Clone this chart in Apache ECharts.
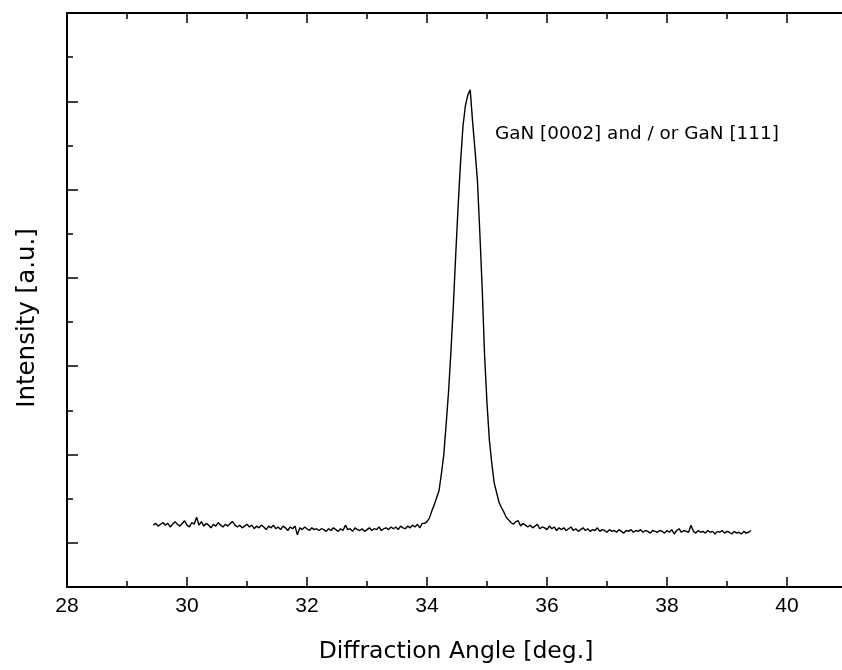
<!DOCTYPE html>
<html>
<head>
<meta charset="utf-8">
<script src="https://cdn.jsdelivr.net/npm/echarts@6/dist/echarts.min.js"></script>
<style>
  html, body { margin: 0; padding: 0; background: #fff; }
  #chart { width: 842px; height: 670px; }
</style>
</head>
<body>
<div id="chart"></div>
<script>
// ---- data ----
const xTickLabels = ['28', '30', '32', '34', '36', '38', '40'];
const scanStart = 29.44;   // first diffraction angle of the scan (deg)
const scanStep = 0.04;     // scan step (deg)
// intensity (a.u.) at each scan step
const intensity = [
  0.70, 0.72, 0.69, 0.71, 0.73, 0.70, 0.72, 0.68, 0.71, 0.74,
  0.71, 0.69, 0.72, 0.75, 0.70, 0.68, 0.73, 0.71, 0.79, 0.70,
  0.74, 0.69, 0.72, 0.70, 0.67, 0.71, 0.69, 0.73, 0.70, 0.68,
  0.71, 0.69, 0.72, 0.74, 0.70, 0.68, 0.70, 0.67, 0.69, 0.71,
  0.68, 0.70, 0.66, 0.69, 0.67, 0.70, 0.68, 0.65, 0.69, 0.67,
  0.70, 0.66, 0.68, 0.65, 0.69, 0.67, 0.64, 0.68, 0.66, 0.69,
  0.59, 0.67, 0.65, 0.68, 0.66, 0.64, 0.67, 0.65, 0.66, 0.64,
  0.66, 0.65, 0.63, 0.66, 0.64, 0.67, 0.65, 0.63, 0.66, 0.64,
  0.70, 0.65, 0.66, 0.63, 0.67, 0.65, 0.64, 0.66, 0.63, 0.65,
  0.67, 0.64, 0.66, 0.65, 0.68, 0.64, 0.66, 0.67, 0.65, 0.68,
  0.66, 0.68, 0.65, 0.69, 0.67, 0.66, 0.69, 0.67, 0.70, 0.68,
  0.71, 0.67, 0.72, 0.72, 0.74, 0.78, 0.86, 0.93, 1.01, 1.09,
  1.28, 1.50, 1.85, 2.22, 2.68, 3.20, 3.78, 4.33, 4.82, 5.22,
  5.45, 5.57, 5.63, 5.27, 4.95, 4.61, 4.02, 3.38, 2.62, 2.08,
  1.66, 1.40, 1.18, 1.07, 0.96, 0.90, 0.85, 0.79, 0.76, 0.73,
  0.71, 0.74, 0.75, 0.69, 0.72, 0.70, 0.68, 0.70, 0.67, 0.69,
  0.71, 0.66, 0.68, 0.67, 0.65, 0.69, 0.66, 0.68, 0.64, 0.67,
  0.65, 0.67, 0.64, 0.66, 0.68, 0.64, 0.66, 0.63, 0.65, 0.67,
  0.64, 0.66, 0.63, 0.65, 0.64, 0.67, 0.63, 0.65, 0.64, 0.62,
  0.65, 0.63, 0.64, 0.62, 0.65, 0.63, 0.61, 0.64, 0.63, 0.65,
  0.62, 0.64, 0.63, 0.65, 0.62, 0.64, 0.63, 0.61, 0.64, 0.63,
  0.62, 0.64, 0.63, 0.61, 0.64, 0.62, 0.65, 0.60, 0.64, 0.66,
  0.62, 0.64, 0.63, 0.62, 0.70, 0.63, 0.61, 0.64, 0.62, 0.63,
  0.61, 0.64, 0.62, 0.63, 0.60, 0.63, 0.62, 0.64, 0.61, 0.63,
  0.62, 0.60, 0.63, 0.61, 0.62, 0.60, 0.63, 0.61, 0.62, 0.64
];
const peakLabel = 'GaN [0002] and / or GaN [111]';
const xTitle = 'Diffraction Angle [deg.]';
const yTitle = 'Intensity [a.u.]';

// ---- build ----
const points = intensity.map((v, i) => [+(scanStart + i * scanStep).toFixed(2), v]);
const FONT = '"Liberation Sans", Arial, Helvetica, sans-serif';
const TFONT = '"DejaVu Sans", "Liberation Sans", sans-serif';

const chart = echarts.init(document.getElementById('chart'), null, { renderer: 'canvas' });

const baseX = {
  type: 'value', min: 28, max: 42, interval: 2,
  splitLine: { show: false },
  axisLine: { show: true, onZero: false, lineStyle: { color: '#000', width: 2 } },
  axisTick: { show: true, inside: true, length: 10, lineStyle: { color: '#000', width: 1.5 } },
  minorTick: { show: true, splitNumber: 2, length: 6, lineStyle: { color: '#000', width: 1.5 } }
};

chart.setOption({
  animation: false,
  backgroundColor: '#fff',
  grid: { left: 67, top: 13, width: 840, bottom: 83, outerBoundsMode: 'none', containLabel: false },
  xAxis: [
    Object.assign({}, baseX, {
      position: 'bottom',
      name: xTitle, nameLocation: 'middle', nameGap: 53,
      nameTextStyle: { color: '#000', fontFamily: TFONT, fontSize: 23.5, padding: [0, 62, 0, 0] },
      axisLabel: {
        show: true, color: '#000', fontFamily: FONT, fontSize: 21, margin: 9,
        showMaxLabel: false,
        formatter: (v) => xTickLabels.includes(String(v)) ? String(v) : ''
      }
    }),
    Object.assign({}, baseX, {
      position: 'top',
      axisLabel: { show: false }
    })
  ],
  yAxis: [
    {
      // data axis: shows the frame line and the short ticks
      type: 'value', min: 0, max: 6.5, interval: 1, position: 'left',
      name: yTitle, nameLocation: 'middle', nameGap: 27, nameRotate: 90,
      nameTextStyle: { color: '#000', fontFamily: TFONT, fontSize: 24.5, padding: [0, 36, 0, 0] },
      splitLine: { show: false },
      axisLabel: { show: false },
      axisLine: { show: true, onZero: false, lineStyle: { color: '#000', width: 2 } },
      axisTick: { show: true, inside: true, length: 6, lineStyle: { color: '#000', width: 1.5 } }
    },
    {
      // overlay axis counted from the top: gives the long ticks
      type: 'value', min: 0, max: 6.5, interval: 1, position: 'left', offset: 0, inverse: true,
      splitLine: { show: false },
      axisLabel: { show: false },
      axisLine: { show: false },
      axisTick: { show: true, inside: true, length: 11, lineStyle: { color: '#000', width: 1.5 } }
    }
  ],
  graphic: [
    {
      type: 'text', x: 495, y: 134,
      style: { text: peakLabel, fill: '#000', font: '18.4px ' + TFONT, verticalAlign: 'middle' }
    }
  ],
  series: [
    {
      type: 'line', xAxisIndex: 0, yAxisIndex: 0,
      data: points, showSymbol: false, symbol: 'none',
      lineStyle: { color: '#000', width: 1.4 },
      silent: true
    }
  ]
});
</script>
</body>
</html>
